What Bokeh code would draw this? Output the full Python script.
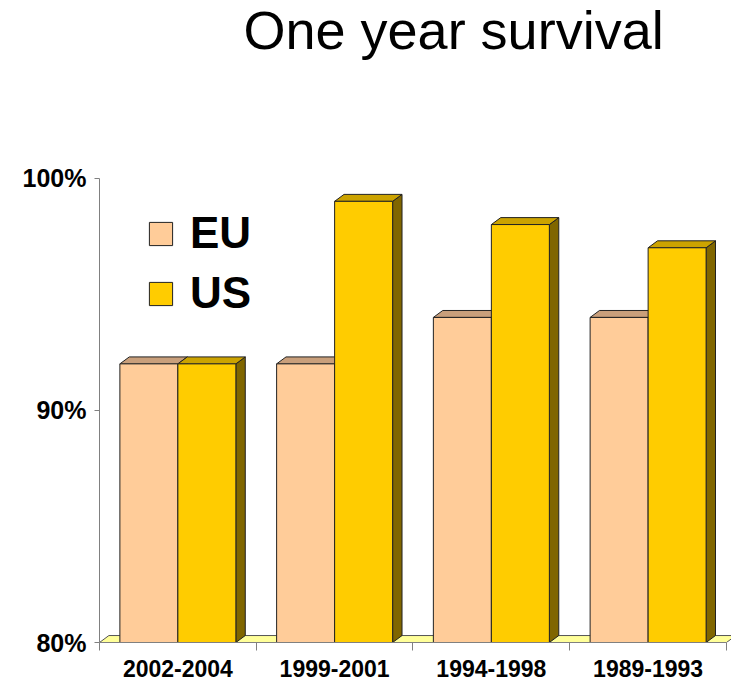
from bokeh.plotting import figure
from bokeh.models import (Range1d, FixedTicker, PrintfTickFormatter, Legend, LegendItem,
                          ColumnDataSource, Label)
from bokeh.embed import file_html
from bokeh.resources import INLINE

# One-year survival (%) by diagnosis period
periods = ["2002-2004", "1999-2001", "1994-1998", "1989-1993"]
eu = [92, 92, 94, 94]
us = [92, 99, 98, 97]
y_ticks = [80, 90, 100]
series_names = ["EU", "US"]

BASE = 80          # floor of the value axis
DX = 0.06          # depth offset of the 3-D boxes, category units
DY = 0.30          # depth offset of the 3-D boxes, percent units
BAR_L, BAR_M, BAR_R = 0.13, 0.50, 0.87  # bar edges within a category slot

styles = {
    "EU": dict(front="#FFCC99", top="#C99F7B", side="#A07850"),
    "US": dict(front="#FFCC00", top="#CCA300", side="#806600"),
}
EDGE = "#222222"

# the plotting frame runs up to the top of the page; the heading sits inside it
p = figure(width=731, height=680,
           x_range=Range1d(0, 4.032), y_range=Range1d(BASE, 107.65),
           output_backend="svg", toolbar_location=None,
           min_border_left=99, min_border_right=0,
           min_border_top=0, min_border_bottom=38)
p.outline_line_color = None
p.grid.visible = False
p.background_fill_color = "white"

# floor of the 3-D box
n = len(periods)
p.patch([0, n, n + DX, DX], [BASE, BASE, BASE + DY, BASE + DY],
        fill_color="#FFFF99", line_color="#555555", line_width=1)

legend_items = []
for name, vals, x0, x1 in [("EU", eu, BAR_L, BAR_M), ("US", us, BAR_M, BAR_R)]:
    st = styles[name]
    lefts = [i + x0 for i in range(n)]
    rights = [i + x1 for i in range(n)]
    side_xs = [[r, r + DX, r + DX, r] for r in rights]
    side_ys = [[BASE, BASE + DY, v + DY, v] for v in vals]
    top_xs = [[l, r, r + DX, l + DX] for l, r in zip(lefts, rights)]
    top_ys = [[v, v, v + DY, v + DY] for v in vals]
    p.patches(side_xs, side_ys, fill_color=st["side"], line_color=EDGE, line_width=1)
    p.patches(top_xs, top_ys, fill_color=st["top"], line_color=EDGE, line_width=1)
    src = ColumnDataSource(dict(left=lefts, right=rights, top=vals,
                                bottom=[BASE] * n))
    r = p.quad(left="left", right="right", top="top", bottom="bottom", source=src,
               fill_color=st["front"], line_color=EDGE, line_width=1)
    legend_items.append(LegendItem(label=name, renderers=[r]))

# value axis
ya = p.yaxis[0]
ya.ticker = FixedTicker(ticks=y_ticks, minor_ticks=[])
ya.formatter = PrintfTickFormatter(format="%d%%")
ya.bounds = (BASE, 100)
ya.axis_line_color = "#808080"
ya.major_tick_line_color = "#808080"
ya.major_tick_out = 5
ya.major_tick_in = 0
ya.major_label_text_font = "Liberation Sans"
ya.major_label_text_font_style = "bold"
ya.major_label_text_font_size = "25px"
ya.major_label_text_color = "black"
ya.major_label_standoff = 8

# category axis: labels at slot centres, ticks at slot boundaries
xa = p.xaxis[0]
xa.ticker = FixedTicker(ticks=[i + 0.5 for i in range(n)],
                        minor_ticks=list(range(n + 1)))
xa.major_label_overrides = {i + 0.5: lab for i, lab in enumerate(periods)}
xa.bounds = (0, n)
xa.axis_line_color = "#808080"
xa.major_tick_line_color = None
xa.major_tick_out = 0
xa.major_tick_in = 0
xa.minor_tick_line_color = "#808080"
xa.minor_tick_out = 8
xa.minor_tick_in = 0
xa.major_label_text_font = "Liberation Sans"
xa.major_label_text_font_style = "bold"
xa.major_label_text_font_size = "23px"
xa.major_label_text_color = "black"
xa.major_label_standoff = 9

legend = Legend(items=legend_items, location=(47, 324),
                glyph_width=29, glyph_height=29,
                label_text_font="Liberation Sans", label_text_font_style="bold",
                label_text_font_size="44px", label_text_color="black",
                label_standoff=15,
                spacing=10, padding=0, margin=0,
                border_line_color=None, background_fill_alpha=0)
p.add_layout(legend, "center")

# chart heading
heading = Label(x=144, y=613, x_units="screen", y_units="screen",
                text="One year survival", text_font="Liberation Sans",
                text_font_size="54px", text_color="black",
                text_baseline="alphabetic", text_align="left")
p.add_layout(heading)

open("out.html", "w").write(file_html(p, INLINE))
